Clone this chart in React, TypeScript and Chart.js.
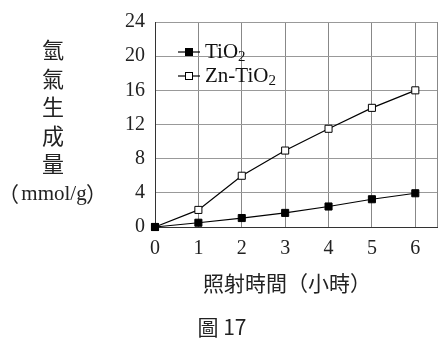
import React, { useEffect, useRef } from "react";
import { Chart, registerables } from "chart.js";

Chart.register(...registerables);

const hours = [0, 1, 2, 3, 4, 5, 6];
const tio2 = [0, 0.5, 1.05, 1.65, 2.4, 3.25, 3.95];
const znTio2 = [0, 2.0, 6.0, 8.95, 11.5, 13.95, 16.0];
const yTicks = [0, 4, 8, 12, 16, 20, 24];
const yTitleChars = ["氫", "氣", "生", "成", "量"];
const yUnit = "mmol/g";
const xTitle = "照射時間（小時）";
const caption = "圖 17";
const seriesNames = ["TiO", "Zn-TiO"];

const SERIF = "'Liberation Serif', 'Noto Sans CJK TC', serif";
const CJK = "'Noto Sans CJK TC', 'Liberation Serif', serif";

const decorPlugin = {
  id: "decor",
  afterDraw(chart: any) {
    const { ctx, chartArea } = chart;
    ctx.save();
    // right border
    ctx.strokeStyle = "#888";
    ctx.lineWidth = 1;
    ctx.beginPath();
    ctx.moveTo(Math.round(chartArea.right) + 0.5, chartArea.top);
    ctx.lineTo(Math.round(chartArea.right) + 0.5, chartArea.bottom);
    ctx.stroke();

    ctx.fillStyle = "#222";
    ctx.textAlign = "center";
    ctx.textBaseline = "middle";
    // y title
    ctx.font = `22px ${CJK}`;
    yTitleChars.forEach((c, i) => {
      ctx.fillText(c, 53, 50 + i * 28.5);
    });
    ctx.font = `21px ${SERIF}`;
    ctx.fillText(yUnit, 54, 194);
    ctx.font = `21px ${CJK}`;
    ctx.textAlign = "left";
    ctx.fillText("（", -2, 194);
    ctx.textAlign = "right";
    ctx.fillText("）", 107, 194);
    ctx.textAlign = "center";
    // x title
    ctx.font = `21px ${CJK}`;
    ctx.fillText(xTitle, 287, 283);
    // caption
    ctx.fillText(caption, 222, 327);

    // legend
    const items = [
      { y: 52, fill: "#000", name: seriesNames[0] },
      { y: 76, fill: "#fff", name: seriesNames[1] },
    ];
    items.forEach((it) => {
      ctx.strokeStyle = "#000";
      ctx.lineWidth = 1.2;
      ctx.beginPath();
      ctx.moveTo(178, it.y);
      ctx.lineTo(200, it.y);
      ctx.stroke();
      ctx.fillStyle = it.fill;
      ctx.fillRect(185.5, it.y - 3.5, 7, 7);
      ctx.lineWidth = 1;
      ctx.strokeRect(185.5, it.y - 3.5, 7, 7);
      ctx.fillStyle = "#111";
      ctx.textAlign = "left";
      ctx.font = `21px ${SERIF}`;
      ctx.fillText(it.name, 205, it.y);
      const w = ctx.measureText(it.name).width;
      ctx.font = `15px ${SERIF}`;
      ctx.fillText("2", 205 + w, it.y + 5);
    });
    ctx.restore();
  },
};

export default function App() {
  const ref = useRef<HTMLCanvasElement>(null);
  useEffect(() => {
    document.body.style.margin = "0";
    const chart = new Chart(ref.current!, {
      type: "line",
      data: {
        datasets: [
          {
            label: "TiO2",
            data: hours.map((h, i) => ({ x: h, y: tio2[i] })),
            borderColor: "#000",
            borderWidth: 1.2,
            backgroundColor: "#000",
            pointStyle: "rect",
            pointRadius: 5,
            pointBorderColor: "#000",
            pointBackgroundColor: "#000",
            pointBorderWidth: 1,
            clip: false as any,
          },
          {
            label: "Zn-TiO2",
            data: hours.map((h, i) => ({ x: h, y: znTio2[i] })),
            borderColor: "#000",
            borderWidth: 1.2,
            backgroundColor: "#fff",
            pointStyle: "rect",
            pointRadius: 5,
            pointBorderColor: "#000",
            pointBackgroundColor: "#fff",
            pointBorderWidth: 1,
            clip: false as any,
          },
        ],
      },
      options: {
        animation: false,
        responsive: false,
        layout: { padding: { top: 20, right: 5, left: 0, bottom: 0 } },
        plugins: { legend: { display: false }, tooltip: { enabled: false } },
        scales: {
          x: {
            type: "linear",
            min: 0,
            max: 6.5,
            afterBuildTicks: (s: any) => {
              s.ticks = hours.map((v) => ({ value: v }));
            },
            afterFit: (s: any) => {
              s.height = 117;
            },
            grid: { color: "#888", lineWidth: 1, drawTicks: false },
            border: { color: "#333", width: 1 },
            ticks: {
              color: "#222",
              padding: 10,
              font: { family: SERIF, size: 20 },
              maxRotation: 0,
            },
          },
          y: {
            type: "linear",
            min: 0,
            max: 24,
            afterBuildTicks: (s: any) => {
              s.ticks = yTicks.map((v) => ({ value: v }));
            },
            afterFit: (s: any) => {
              s.width = 155;
            },
            grid: { color: "#999", lineWidth: 1, drawTicks: false },
            border: { color: "#333", width: 1 },
            ticks: {
              color: "#222",
              padding: 10,
              font: { family: SERIF, size: 20 },
            },
          },
        },
      },
      plugins: [decorPlugin],
    });
    return () => chart.destroy();
  }, []);
  return <canvas ref={ref} width={443} height={344} style={{ display: "block" }} />;
}
